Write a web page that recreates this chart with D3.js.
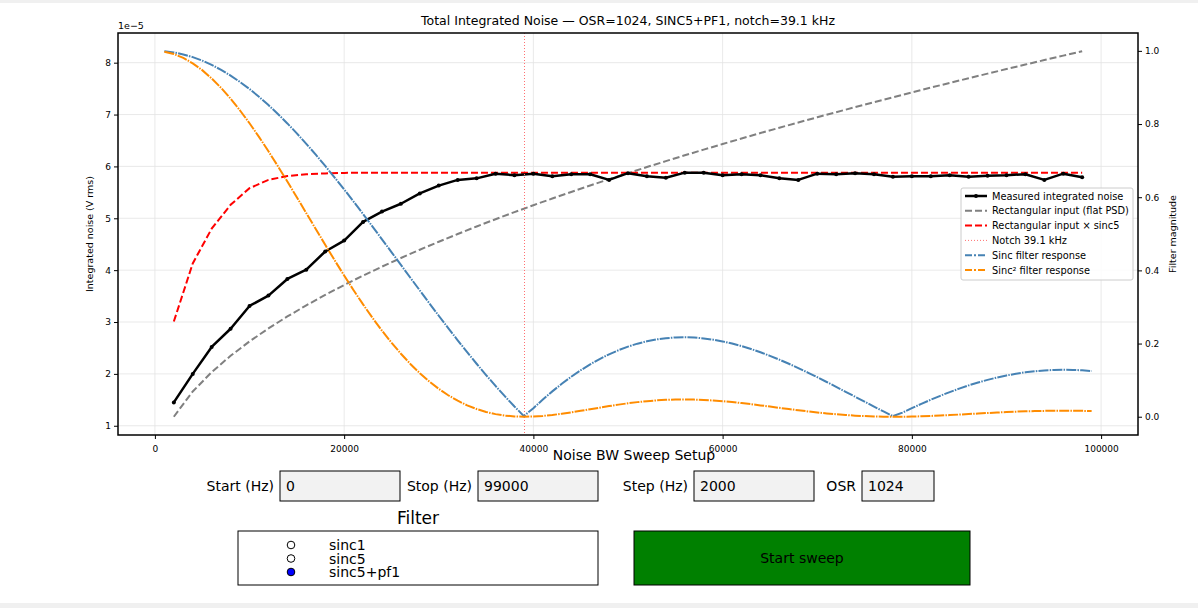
<!DOCTYPE html>
<html>
<head>
<meta charset="utf-8">
<script src="https://cdn.jsdelivr.net/npm/d3@7"></script>
<style>
  body { margin: 0; background: #f0f0f0; }
  svg { display: block; font-family: "DejaVu Sans", sans-serif; }
</style>
</head>
<body>
<script>
// sweep points (Hz) and filter curve points (Hz)
var sweepFreqs = d3.range(2000, 100000, 2000);
var filterFreqs = d3.range(1000, 100000, 1000);

// integrated noise, units of 1e-5 V rms
var measured = [1.45, 2.00, 2.52, 2.87, 3.31, 3.51, 3.83, 4.01, 4.36, 4.57,
  4.93, 5.13, 5.28, 5.48, 5.63, 5.74, 5.77, 5.86, 5.83, 5.86,
  5.81, 5.85, 5.85, 5.74, 5.87, 5.81, 5.78, 5.88, 5.88, 5.83,
  5.85, 5.83, 5.77, 5.74, 5.86, 5.85, 5.87, 5.85, 5.80, 5.81,
  5.81, 5.83, 5.80, 5.82, 5.83, 5.85, 5.74, 5.86, 5.79];
var rectFlat = [1.174, 1.661, 2.034, 2.349, 2.626, 2.876, 3.107, 3.321, 3.523, 3.713,
  3.895, 4.068, 4.234, 4.394, 4.548, 4.697, 4.842, 4.982, 5.119, 5.252,
  5.381, 5.508, 5.632, 5.753, 5.871, 5.988, 6.102, 6.214, 6.324, 6.432,
  6.538, 6.643, 6.746, 6.847, 6.947, 7.046, 7.143, 7.239, 7.333, 7.427,
  7.519, 7.610, 7.700, 7.789, 7.877, 7.964, 8.050, 8.136, 8.220];
var rectSinc5 = [3.01, 4.13, 4.80, 5.26, 5.58, 5.74, 5.815, 5.85, 5.865, 5.875,
  5.88, 5.88, 5.88, 5.88, 5.88, 5.88, 5.88, 5.88, 5.88, 5.88,
  5.88, 5.88, 5.88, 5.88, 5.88, 5.88, 5.88, 5.88, 5.88, 5.88,
  5.88, 5.88, 5.88, 5.88, 5.88, 5.88, 5.88, 5.88, 5.88, 5.88,
  5.88, 5.88, 5.88, 5.88, 5.88, 5.88, 5.88, 5.88, 5.88];

// filter magnitude (right axis)
var sincMag = [0.9989, 0.9957, 0.9903, 0.9828, 0.9733, 0.9616, 0.9480, 0.9324, 0.9149, 0.8956,
  0.8746, 0.8518, 0.8275, 0.8017, 0.7745, 0.7460, 0.7163, 0.6855, 0.6538, 0.6213,
  0.5880, 0.5541, 0.5197, 0.4850, 0.4500, 0.4150, 0.3799, 0.3450, 0.3103, 0.2760,
  0.2422, 0.2090, 0.1765, 0.1448, 0.1140, 0.0842, 0.0555, 0.0279, 0.0016, 0.0234,
  0.0471, 0.0693, 0.0901, 0.1093, 0.1270, 0.1431, 0.1576, 0.1706, 0.1819, 0.1916,
  0.1997, 0.2063, 0.2113, 0.2147, 0.2167, 0.2172, 0.2164, 0.2141, 0.2106, 0.2059,
  0.2000, 0.1931, 0.1851, 0.1762, 0.1665, 0.1559, 0.1448, 0.1330, 0.1207, 0.1080,
  0.0949, 0.0817, 0.0682, 0.0547, 0.0412, 0.0278, 0.0146, 0.0016, 0.0111, 0.0234,
  0.0352, 0.0465, 0.0572, 0.0674, 0.0768, 0.0856, 0.0936, 0.1008, 0.1072, 0.1128,
  0.1175, 0.1214, 0.1244, 0.1266, 0.1279, 0.1284, 0.1280, 0.1268, 0.1249];
var sinc2Mag = [0.9978, 0.9914, 0.9807, 0.9659, 0.9473, 0.9247, 0.8987, 0.8694, 0.8370, 0.8021,
  0.7649, 0.7256, 0.6848, 0.6427, 0.5999, 0.5565, 0.5131, 0.4699, 0.4275, 0.3860,
  0.3457, 0.3070, 0.2701, 0.2352, 0.2025, 0.1722, 0.1443, 0.1190, 0.0963, 0.0762,
  0.0587, 0.0437, 0.0312, 0.0210, 0.0130, 0.0071, 0.0031, 0.0008, 0.0000, 0.0005,
  0.0022, 0.0048, 0.0081, 0.0119, 0.0161, 0.0205, 0.0248, 0.0291, 0.0331, 0.0367,
  0.0399, 0.0426, 0.0446, 0.0461, 0.0470, 0.0472, 0.0468, 0.0458, 0.0444, 0.0424,
  0.0400, 0.0373, 0.0343, 0.0310, 0.0277, 0.0243, 0.0210, 0.0177, 0.0146, 0.0117,
  0.0090, 0.0067, 0.0047, 0.0030, 0.0017, 0.0008, 0.0002, 0.0000, 0.0001, 0.0005,
  0.0012, 0.0022, 0.0033, 0.0045, 0.0059, 0.0073, 0.0088, 0.0102, 0.0115, 0.0127,
  0.0138, 0.0147, 0.0155, 0.0160, 0.0164, 0.0165, 0.0164, 0.0161, 0.0156];

var notchHz = 39062.5;
var xTicks = [0, 20000, 40000, 60000, 80000, 100000];
var yTicks = [1, 2, 3, 4, 5, 6, 7, 8];
var yRTicks = [0, 0.2, 0.4, 0.6, 0.8, 1.0];

var dashDot = "10,1.2,1.5,1.2";
var legendItems = [
  {label: "Measured integrated noise", color: "black", dash: null, w: 2.5, marker: true},
  {label: "Rectangular input (flat PSD)", color: "#808080", dash: "7,3", w: 2},
  {label: "Rectangular input \u00d7 sinc5", color: "red", dash: "7,3", w: 2},
  {label: "Notch 39.1 kHz", color: "#ff7070", dash: "1,2", w: 1},
  {label: "Sinc filter response", color: "steelblue", dash: "7,2,2,2", w: 2},
  {label: "Sinc\u00b2 filter response", color: "darkorange", dash: "7,2,2,2", w: 2}
];

var W = 1198, H = 608;
var pL = 118, pR = 1138, pT = 33, pB = 435;

var svg = d3.select("body").append("svg")
  .attr("width", W).attr("height", H);

svg.append("rect").attr("x", 0).attr("y", 0).attr("width", W).attr("height", H).attr("fill", "#f0f0f0");
svg.append("rect").attr("x", 0).attr("y", 3).attr("width", W).attr("height", 600).attr("fill", "white");

// scales, with matplotlib's 5% margins
var xExt = d3.extent(filterFreqs), xPad = (xExt[1] - xExt[0]) * 0.05;
var x = d3.scaleLinear().domain([xExt[0] - xPad, xExt[1] + xPad]).range([pL, pR]);
var yExt = d3.extent(rectFlat.concat(measured, rectSinc5)), yPad = (yExt[1] - yExt[0]) * 0.05;
var y = d3.scaleLinear().domain([yExt[0] - yPad, yExt[1] + yPad]).range([pB, pT]);
var rExt = d3.extent(sincMag.concat(sinc2Mag)), rPad = (rExt[1] - rExt[0]) * 0.05;
var yR = d3.scaleLinear().domain([rExt[0] - rPad, rExt[1] + rPad]).range([pB, pT]);

// grid
var grid = svg.append("g").attr("stroke", "#e3e3e3").attr("stroke-width", 0.8);
xTicks.forEach(function(t){
  grid.append("line").attr("x1", x(t)).attr("x2", x(t)).attr("y1", pT).attr("y2", pB);
});
yTicks.forEach(function(t){
  grid.append("line").attr("x1", pL).attr("x2", pR).attr("y1", y(t)).attr("y2", y(t));
});

svg.append("defs").append("clipPath").attr("id", "plotclip")
  .append("rect").attr("x", pL).attr("y", pT).attr("width", pR - pL).attr("height", pB - pT);
var plot = svg.append("g").attr("clip-path", "url(#plotclip)");

var lineL = d3.line().x(function(d){ return x(d[0]); }).y(function(d){ return y(d[1]); });
var lineR = d3.line().x(function(d){ return x(d[0]); }).y(function(d){ return yR(d[1]); });

function pairs(xs, vs){ return xs.map(function(f, i){ return [f, vs[i]]; }); }

plot.append("path").attr("d", lineL(pairs(sweepFreqs, rectFlat)))
  .attr("fill", "none").attr("stroke", "#808080").attr("stroke-width", 2).attr("stroke-dasharray", "7,3");
plot.append("path").attr("d", lineL(pairs(sweepFreqs, rectSinc5)))
  .attr("fill", "none").attr("stroke", "red").attr("stroke-width", 2).attr("stroke-dasharray", "7,3");
plot.append("path").attr("d", lineL(pairs(sweepFreqs, measured)))
  .attr("fill", "none").attr("stroke", "black").attr("stroke-width", 2.5).attr("stroke-linejoin", "round");
plot.selectAll("circle.m").data(pairs(sweepFreqs, measured)).enter().append("circle")
  .attr("class", "m").attr("cx", function(d){ return x(d[0]); }).attr("cy", function(d){ return y(d[1]); })
  .attr("r", 2).attr("fill", "black");

plot.append("line").attr("x1", x(notchHz)).attr("x2", x(notchHz)).attr("y1", pT).attr("y2", pB)
  .attr("stroke", "#ff7070").attr("stroke-width", 1).attr("stroke-dasharray", "1,2");

plot.append("path").attr("d", lineR(pairs(filterFreqs, sincMag)))
  .attr("fill", "none").attr("stroke", "steelblue").attr("stroke-width", 2).attr("stroke-dasharray", dashDot);
plot.append("path").attr("d", lineR(pairs(filterFreqs, sinc2Mag)))
  .attr("fill", "none").attr("stroke", "darkorange").attr("stroke-width", 2).attr("stroke-dasharray", dashDot);

// axes
var xAxis = svg.append("g").attr("transform", "translate(0," + pB + ")")
  .call(d3.axisBottom(x).tickValues(xTicks).tickFormat(d3.format("d")).tickSize(4).tickSizeOuter(0));
var yAxis = svg.append("g").attr("transform", "translate(" + pL + ",0)")
  .call(d3.axisLeft(y).tickValues(yTicks).tickFormat(d3.format("d")).tickSize(4).tickSizeOuter(0));
var yRAxis = svg.append("g").attr("transform", "translate(" + pR + ",0)")
  .call(d3.axisRight(yR).tickValues(yRTicks).tickFormat(d3.format(".1f")).tickSize(4).tickSizeOuter(0));
[xAxis, yAxis, yRAxis].forEach(function(a){
  a.selectAll("path").remove();
  a.selectAll("text").attr("font-size", 9).attr("fill", "black").attr("font-family", "DejaVu Sans");
  a.selectAll("line").attr("stroke", "black");
});
xAxis.selectAll("text").attr("dy", "1.1em");

svg.append("rect").attr("x", pL).attr("y", pT).attr("width", pR - pL).attr("height", pB - pT)
  .attr("fill", "none").attr("stroke", "black").attr("stroke-width", 1.5);

svg.append("text").attr("x", (pL + pR) / 2).attr("y", 25).attr("text-anchor", "middle")
  .attr("font-size", 12.5).text("Total Integrated Noise \u2014 OSR=1024, SINC5+PF1, notch=39.1 kHz");
svg.append("text").attr("x", pL).attr("y", 29).attr("font-size", 9.5).text("1e\u22125");
svg.append("text").attr("transform", "translate(93," + ((pT + pB) / 2) + ") rotate(-90)")
  .attr("text-anchor", "middle").attr("font-size", 9.5).text("Integrated noise (V rms)");
svg.append("text").attr("transform", "translate(1176," + ((pT + pB) / 2) + ") rotate(-90)")
  .attr("text-anchor", "middle").attr("font-size", 9.5).text("Filter magnitude");

// legend
var lg = svg.append("g").attr("transform", "translate(961,188)");
lg.append("rect").attr("width", 172).attr("height", 92).attr("rx", 2)
  .attr("fill", "white").attr("fill-opacity", 0.85).attr("stroke", "#cccccc");
legendItems.forEach(function(it, i){
  var yy = 8 + i * 14.8;
  var ln = lg.append("line").attr("x1", 4).attr("x2", 26).attr("y1", yy).attr("y2", yy)
    .attr("stroke", it.color).attr("stroke-width", it.w);
  if (it.dash) ln.attr("stroke-dasharray", it.dash);
  if (it.marker) lg.append("circle").attr("cx", 15).attr("cy", yy).attr("r", 2).attr("fill", "black");
  lg.append("text").attr("x", 31).attr("y", yy + 3.5).attr("font-size", 9.8).text(it.label);
});

// sweep setup widgets
svg.append("text").attr("x", 634).attr("y", 460).attr("text-anchor", "middle").attr("font-size", 14)
  .text("Noise BW Sweep Setup");

var fields = [
  {label: "Start (Hz)", value: "0", x: 280, w: 120},
  {label: "Stop (Hz)", value: "99000", x: 478, w: 120},
  {label: "Step (Hz)", value: "2000", x: 694, w: 120},
  {label: "OSR", value: "1024", x: 862, w: 72}
];
fields.forEach(function(f){
  svg.append("text").attr("x", f.x - 6).attr("y", 491).attr("text-anchor", "end").attr("font-size", 14).text(f.label);
  svg.append("rect").attr("x", f.x).attr("y", 471).attr("width", f.w).attr("height", 30)
    .attr("fill", "#f2f2f2").attr("stroke", "black").attr("stroke-width", 1);
  svg.append("text").attr("x", f.x + 6).attr("y", 491).attr("font-size", 14).text(f.value);
});

svg.append("text").attr("x", 418).attr("y", 524).attr("text-anchor", "middle").attr("font-size", 17).text("Filter");
svg.append("rect").attr("x", 238).attr("y", 531).attr("width", 360).attr("height", 54)
  .attr("fill", "white").attr("stroke", "black").attr("stroke-width", 1);
var radios = ["sinc1", "sinc5", "sinc5+pf1"];
radios.forEach(function(r, i){
  var yy = 545 + i * 13.5;
  svg.append("circle").attr("cx", 291).attr("cy", yy).attr("r", 3.8)
    .attr("fill", i === 2 ? "blue" : "white").attr("stroke", "black").attr("stroke-width", 1);
  svg.append("text").attr("x", 329).attr("y", yy + 5).attr("font-size", 14).text(r);
});

svg.append("rect").attr("x", 634).attr("y", 531).attr("width", 336).attr("height", 54)
  .attr("fill", "green").attr("stroke", "black").attr("stroke-width", 1);
svg.append("text").attr("x", 802).attr("y", 563).attr("text-anchor", "middle").attr("font-size", 14).text("Start sweep");
</script>
</body>
</html>
